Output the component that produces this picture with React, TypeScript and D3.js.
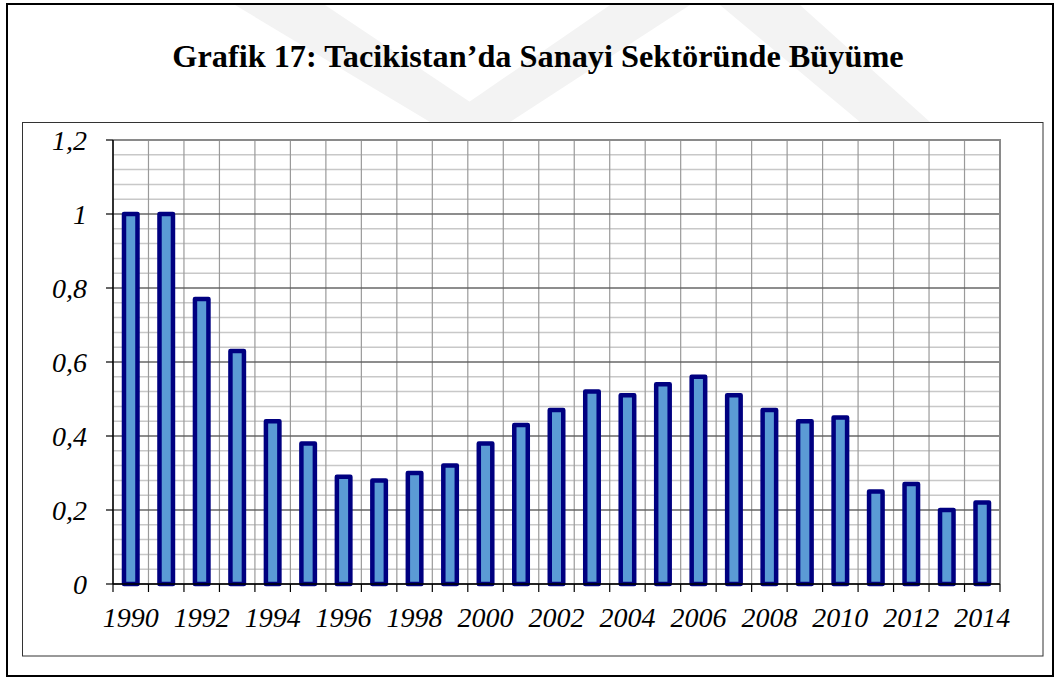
import React from 'react';
import * as d3 from 'd3';

const years = [
  '1990', '1991', '1992', '1993', '1994', '1995', '1996', '1997', '1998', '1999',
  '2000', '2001', '2002', '2003', '2004', '2005', '2006', '2007', '2008', '2009',
  '2010', '2011', '2012', '2013', '2014',
];
const growth = [
  1.0, 1.0, 0.77, 0.63, 0.44, 0.38, 0.29, 0.28, 0.3, 0.32,
  0.38, 0.43, 0.47, 0.52, 0.51, 0.54, 0.56, 0.51, 0.47, 0.44,
  0.45, 0.25, 0.27, 0.2, 0.22,
];
const yTicks = [0, 0.2, 0.4, 0.6, 0.8, 1, 1.2];
const title = 'Grafik 17: Tacikistan’da Sanayi Sektöründe Büyüme';

const W = 1056;
const H = 678;
const plot = { left: 113, right: 1000, top: 140, bottom: 584 };
const serif = '"Liberation Serif", "Times New Roman", serif';

export default function App() {
  const x = d3.scaleBand<string>().domain(years).range([plot.left, plot.right]).padding(0);
  const y = d3.scaleLinear().domain([0, 1.2]).range([plot.bottom, plot.top]);
  const minor = d3.range(0, 1.2001, 0.04);
  const barW = 13.5;
  const fmt = (v: number) => String(v).replace('.', ',');

  return (
    <svg width={W} height={H} style={{ position: 'absolute', left: 0, top: 0, background: '#fff' }}>
      {/* faint watermark */}
      <g fill="#f3f3f3">
        <polygon points="235,5 325,5 500,122 430,122" />
        <polygon points="610,5 690,5 510,122 440,122" />
        <polygon points="720,5 800,5 930,122 860,122" />
      </g>

      {/* outer frame */}
      <rect x={7} y={4} width={1046} height={672} fill="none" stroke="#000" strokeWidth={2} />

      <text x={538} y={67} textAnchor="middle" fontFamily={serif} fontWeight="bold" fontSize={32.3} fill="#000">
        {title}
      </text>

      {/* chart box */}
      <rect x={22.5} y={122.5} width={1020.5} height={533.5} fill="#fff" stroke="#333" strokeWidth={1} />

      {/* minor horizontal grid */}
      {minor.map((v, i) => (
        <line key={'m' + i} x1={plot.left} x2={plot.right} y1={y(v)} y2={y(v)} stroke="#c8c8c8" strokeWidth={1.5} />
      ))}
      {/* vertical grid */}
      {years.map((yr) => (
        <line key={'v' + yr} x1={x(yr)!} x2={x(yr)!} y1={plot.top} y2={plot.bottom} stroke="#9a9a9a" strokeWidth={1.2} />
      ))}
      {/* major horizontal grid */}
      {yTicks.map((v) => (
        <line key={'M' + v} x1={plot.left} x2={plot.right} y1={y(v)} y2={y(v)} stroke="#444" strokeWidth={1.2} />
      ))}
      {/* plot border top/right */}
      <polyline
        points={`${plot.left},${plot.top} ${plot.right},${plot.top} ${plot.right},${plot.bottom}`}
        fill="none"
        stroke="#8a8a8a"
        strokeWidth={2}
      />

      {/* bars */}
      {years.map((yr, i) => {
        const cx = x(yr)! + x.bandwidth() / 2;
        return (
          <rect
            key={'b' + yr}
            x={cx - barW / 2}
            y={y(growth[i])}
            width={barW}
            height={plot.bottom - y(growth[i])}
            fill="#5b9bd5"
            stroke="#000080"
            strokeWidth={4.5}
            strokeLinejoin="round"
          />
        );
      })}

      {/* axes */}
      <line x1={plot.left} x2={plot.left} y1={plot.top} y2={plot.bottom} stroke="#000" strokeWidth={1.5} />
      <line x1={plot.left} x2={plot.right} y1={plot.bottom} y2={plot.bottom} stroke="#000" strokeWidth={1.5} />
      {yTicks.map((v) => (
        <g key={'yt' + v}>
          <line x1={plot.left - 7} x2={plot.left} y1={y(v)} y2={y(v)} stroke="#000" strokeWidth={1.2} />
          <text
            x={87}
            y={y(v)}
            dy="0.36em"
            textAnchor="end"
            fontFamily={serif}
            fontStyle="italic"
            fontSize={28}
            fill="#000"
          >
            {fmt(v)}
          </text>
        </g>
      ))}
      {[...years.map((yr) => x(yr)!), plot.right].map((px, i) => (
        <line key={'xt' + i} x1={px} x2={px} y1={plot.bottom} y2={plot.bottom + 8} stroke="#000" strokeWidth={1.2} />
      ))}
      {years.map((yr, i) =>
        i % 2 === 0 ? (
          <text
            key={'xl' + yr}
            x={x(yr)! + x.bandwidth() / 2}
            y={627}
            textAnchor="middle"
            fontFamily={serif}
            fontStyle="italic"
            fontSize={28}
            fill="#000"
          >
            {yr}
          </text>
        ) : null
      )}
    </svg>
  );
}
